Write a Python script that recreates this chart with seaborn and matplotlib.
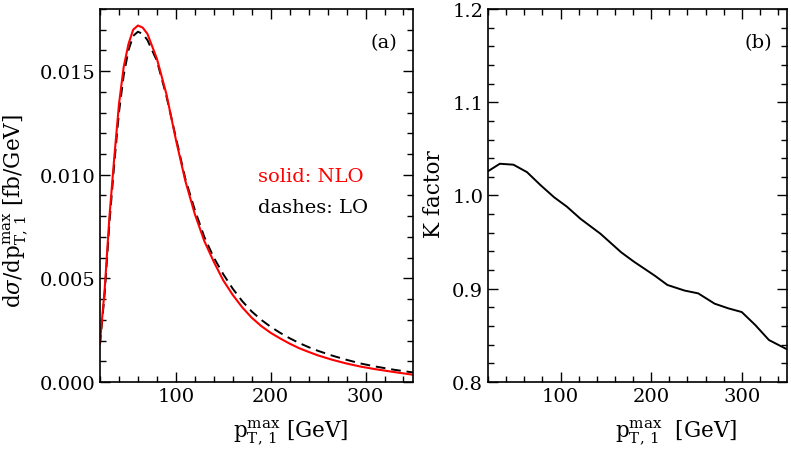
import numpy as np
import pandas as pd
import matplotlib
matplotlib.use("Agg")
import matplotlib.pyplot as plt
import seaborn as sns
from matplotlib.ticker import MultipleLocator, FormatStrFormatter

# values
pt = [20, 25, 30, 35, 40, 45, 50, 55, 60, 65, 70, 80, 90, 100, 110, 120, 130,
      140, 150, 160, 170, 180, 190, 200, 210, 220, 230, 240, 250, 265, 280,
      295, 310, 330, 350]
nlo = [0.0019, 0.0045, 0.0080, 0.0108, 0.0134, 0.0152, 0.0163, 0.0170, 0.0172,
       0.0171, 0.0168, 0.0156, 0.0139, 0.0117, 0.0097, 0.0081, 0.0068, 0.0058,
       0.0049, 0.0042, 0.0036, 0.0031, 0.0027, 0.00237, 0.00210, 0.00185,
       0.00163, 0.00145, 0.00128, 0.00107, 0.00089, 0.00074, 0.00062, 0.00048,
       0.00035]
lo = [0.0018, 0.0043, 0.0077, 0.0105, 0.0130, 0.0148, 0.0160, 0.0167, 0.0169,
      0.0168, 0.0165, 0.0155, 0.0138, 0.0118, 0.0098, 0.0083, 0.0070, 0.0060,
      0.0052, 0.0045, 0.0039, 0.0034, 0.0030, 0.00266, 0.00237, 0.00211,
      0.00188, 0.00168, 0.00150, 0.00127, 0.00107, 0.00089, 0.00075, 0.00059,
      0.00046]

pt_k = [20, 33, 48, 63, 78, 93, 107, 122, 144, 167, 181, 204, 218, 237, 252,
        270, 285, 300, 315, 330, 350]
kfac = [1.026, 1.034, 1.033, 1.025, 1.011, 0.998, 0.988, 0.975, 0.959, 0.939,
        0.929, 0.914, 0.904, 0.898, 0.895, 0.884, 0.879, 0.875, 0.861, 0.845,
        0.835]

sns.set_style("ticks")
plt.rcParams['font.family'] = ['DejaVu Serif']
plt.rcParams['mathtext.fontset'] = 'dejavuserif'
plt.rcParams['font.size'] = 14
for k in ('text.color', 'axes.labelcolor', 'xtick.color', 'ytick.color',
          'axes.edgecolor'):
    plt.rcParams[k] = 'black'

df = pd.DataFrame({'pt': pt, 'NLO': nlo, 'LO': lo})
dk = pd.DataFrame({'pt': pt_k, 'K': kfac})

fig = plt.figure(figsize=(7.91, 4.52), dpi=100)
ax1 = fig.add_axes([0.1264, 0.1527, 0.3957, 0.8253])
ax2 = fig.add_axes([0.617, 0.1527, 0.378, 0.8253])

sns.lineplot(data=df, x='pt', y='LO', ax=ax1, color='black', lw=1.4,
             linestyle=(0, (5, 3)))
sns.lineplot(data=df, x='pt', y='NLO', ax=ax1, color='red', lw=1.5)
sns.lineplot(data=dk, x='pt', y='K', ax=ax2, color='black', lw=1.4)

ax1.set_xlim(20, 350)
ax1.set_ylim(0, 0.018)
ax1.xaxis.set_major_locator(MultipleLocator(100))
ax1.xaxis.set_minor_locator(MultipleLocator(20))
ax1.yaxis.set_major_locator(MultipleLocator(0.005))
ax1.yaxis.set_minor_locator(MultipleLocator(0.001))
ax1.yaxis.set_major_formatter(FormatStrFormatter('%.3f'))
ax1.set_xlabel(r'p$^{\rm max}_{\rm T,\,1}$ [GeV]', fontsize=15.5)
ax1.set_ylabel(r'd$\sigma$/dp$^{\rm max}_{\rm T,\,1}$ [fb/GeV]', fontsize=15.5)
ax1.xaxis.set_label_coords(0.61, -0.095)
ax1.yaxis.set_label_coords(-0.225, 0.46)
ax1.text(0.95, 0.91, '(a)', transform=ax1.transAxes, ha='right', va='center')
ax1.text(0.505, 0.551, 'solid: NLO', transform=ax1.transAxes, color='red',
         ha='left', va='center')
ax1.text(0.505, 0.47, 'dashes: LO', transform=ax1.transAxes, color='black',
         ha='left', va='center')

ax2.set_xlim(20, 350)
ax2.set_ylim(0.8, 1.2)
ax2.xaxis.set_major_locator(MultipleLocator(100))
ax2.xaxis.set_minor_locator(MultipleLocator(20))
ax2.yaxis.set_major_locator(MultipleLocator(0.1))
ax2.yaxis.set_minor_locator(MultipleLocator(0.02))
ax2.set_xlabel(r'p$^{\rm max}_{\rm T,\,1}$  [GeV]', fontsize=15.5)
ax2.set_ylabel('K factor', fontsize=15.5)
ax2.xaxis.set_label_coords(0.63, -0.095)
ax2.yaxis.set_label_coords(-0.144, 0.507)
ax2.text(0.95, 0.91, '(b)', transform=ax2.transAxes, ha='right', va='center')

for ax in (ax1, ax2):
    ax.tick_params(which='both', direction='in', top=True, right=True,
                   labelsize=14, width=1)
    ax.tick_params(which='major', length=7)
    ax.tick_params(which='minor', length=4)
    for s in ax.spines.values():
        s.set_linewidth(1.2)

fig.savefig('out.png', dpi=100)
